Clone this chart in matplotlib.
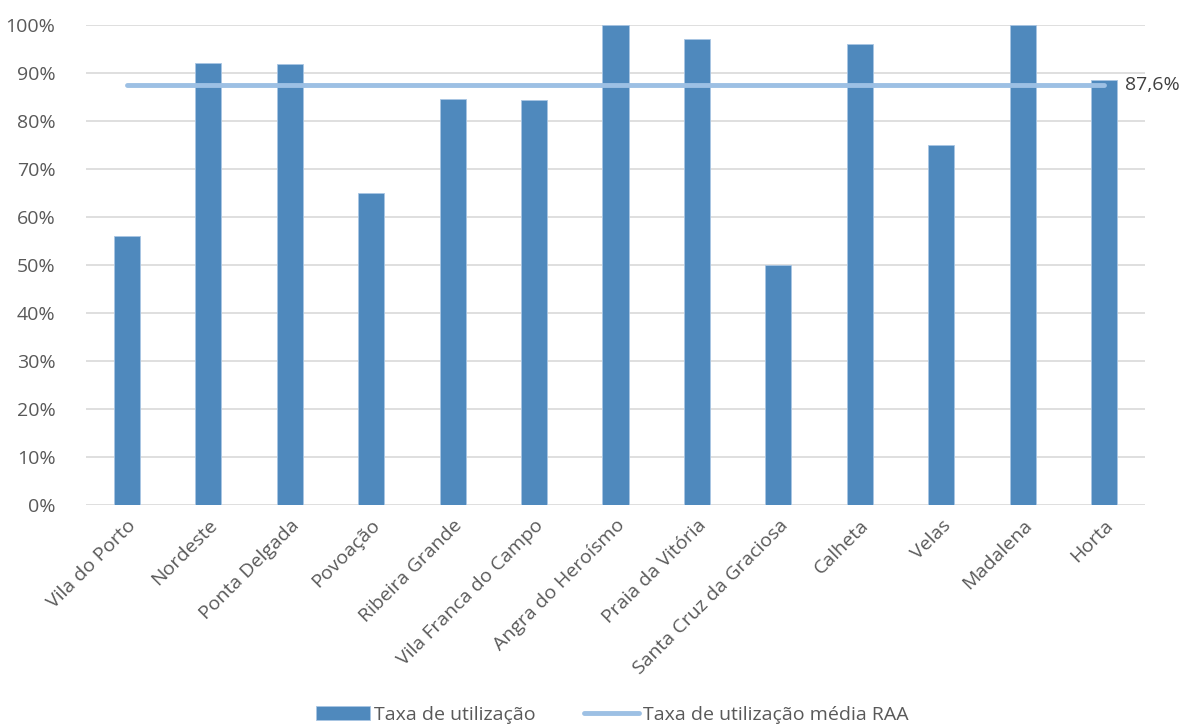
import matplotlib
matplotlib.use("Agg")
import matplotlib.pyplot as plt
from matplotlib.ticker import FuncFormatter

categories = ["Vila do Porto", "Nordeste", "Ponta Delgada", "Povoação", "Ribeira Grande",
              "Vila Franca do Campo", "Angra do Heroísmo", "Praia da Vitória",
              "Santa Cruz da Graciosa", "Calheta", "Velas", "Madalena", "Horta"]
taxa = [56.0, 92.0, 91.8, 65.0, 84.5, 84.4, 100.0, 97.1, 50.0, 96.0, 75.0, 100.0, 88.5]
media_raa = 87.6
yticks = [0, 10, 20, 30, 40, 50, 60, 70, 80, 90, 100]

plt.rcParams['font.family'] = ['Open Sans', 'DejaVu Sans']
txt = '#595959'
fs = 14

fig = plt.figure(figsize=(11.87, 7.26), dpi=100)
ax = fig.add_axes([86/1187, 1-505/726, (1145-86)/1187, 480/726])

x = list(range(len(categories)))
bars = ax.bar(x, taxa, width=0.32, color='#4F89BD', edgecolor='#A9C6E3', linewidth=0.6,
              label='Taxa de utilização', zorder=2)
line, = ax.plot([x[0], x[-1]], [media_raa, media_raa], color='#9DC0E4', linewidth=3.5,
                solid_capstyle='round', label='Taxa de utilização média RAA', zorder=3)
ax.text(x[-1] + 0.26, media_raa, f"{media_raa:.1f}%".replace('.', ','), color='#404040',
        fontsize=fs, va='center', ha='left')

ax.set_xlim(-0.5, len(categories) - 0.5)
ax.set_ylim(0, 100)
ax.set_yticks(yticks)
ax.yaxis.set_major_formatter(FuncFormatter(lambda v, p: f"{int(v)}%"))
ax.grid(axis='y', color='#D9D9D9', linewidth=1.2, zorder=0)
ax.set_axisbelow(True)
for s in ax.spines.values():
    s.set_visible(False)
ax.tick_params(axis='both', length=0, colors=txt, labelsize=fs)
ax.tick_params(axis='y', pad=22)
ax.set_xticks(x)
ax.set_xticklabels(categories, rotation=45, ha='right', rotation_mode='anchor')
ax.tick_params(axis='x', pad=8)

leg = fig.legend([bars, line], ['Taxa de utilização', 'Taxa de utilização média RAA'],
                 loc='center', bbox_to_anchor=(612/1187, 1-715/726), ncol=2, frameon=False,
                 fontsize=fs, handlelength=2.8, handletextpad=0.2, columnspacing=2.5)
for t in leg.get_texts():
    t.set_color(txt)

fig.savefig('out.png', dpi=100)
